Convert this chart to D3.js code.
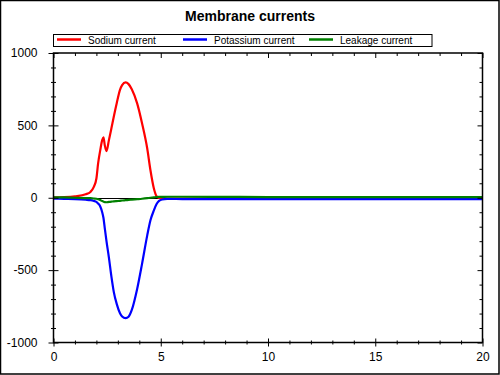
<!DOCTYPE html>
<html>
<head>
<meta charset="utf-8">
<script src="https://cdnjs.cloudflare.com/ajax/libs/d3/7.8.5/d3.min.js"></script>
<style>
  body { margin: 0; background: #fff; }
  svg { display: block; font-family: "Liberation Sans", Arial, sans-serif; }
</style>
</head>
<body>
<svg id="chart" width="500" height="375"></svg>
<script>
// time in ms, currents
var time = [0, 0.5, 1, 1.5, 1.72, 1.88, 2, 2.08, 2.18, 2.27, 2.33, 2.39, 2.47, 2.58, 2.7, 2.81,
    2.95, 3.1, 3.2, 3.36, 3.5, 3.65, 3.9, 4.13, 4.37, 4.52, 4.68, 4.8, 4.92, 5.07, 5.3,
    6, 8, 10, 15, 20];
var sodium = [2, 4, 10, 24, 40, 75, 133, 237, 329, 398, 417, 363, 322, 395, 480, 560,
    655, 745, 778, 797, 785, 750, 652, 513, 340, 190, 64, 12, -2, -5, -6,
    -6, -6, -6, -6, -6];
var potassium = [-6, -8, -10, -14, -17, -22, -28, -40, -60, -100, -140, -210, -300, -410, -545, -650,
    -735, -798, -820, -832, -822, -775, -630, -455, -260, -156, -87, -45, -22, -12, -8,
    -9, -10, -10, -10, -10];
var leakage = [3, 2, 0, -2, -3, -5, -7, -10, -16, -23, -27, -30, -31, -29, -27, -25,
    -23, -21, -19, -17, -15, -13, -10, -7, -3, 0, 3, 5, 6, 6, 7,
    7, 6, 5, 5, 5];

var seriesNames = ["Sodium current", "Potassium current", "Leakage current"];
var seriesColors = ["#ff0000", "#0000ff", "#008000"];
var xMajor = [0, 5, 10, 15, 20];
var yMajor = [-1000, -500, 0, 500, 1000];

var svg = d3.select("#chart");

svg.append("rect")
    .attr("x", 0.5).attr("y", 0.5)
    .attr("width", 498.5).attr("height", 373.5)
    .attr("fill", "#fff")
    .attr("stroke", "#000")
    .attr("stroke-width", 1.5);

var x = d3.scaleLinear().domain([0, 20]).range([53.5, 482.5]);
var y = d3.scaleLinear().domain([-1000, 1000]).range([342.5, 53]);

var xMinor = d3.range(0, 21, 1).filter(function(d){ return d % 5 != 0; });
var yMinor = d3.range(-1000, 1001, 100).filter(function(d){ return d % 500 != 0; });
var plain = function(d){ return String(d); };

// title
svg.append("text")
    .attr("x", 250).attr("y", 21)
    .attr("text-anchor", "middle")
    .attr("font-size", 14)
    .attr("font-weight", "bold")
    .text("Membrane currents");

// legend
svg.append("rect")
    .attr("x", 53.5).attr("y", 34.5)
    .attr("width", 378.5).attr("height", 12)
    .attr("fill", "none")
    .attr("stroke", "#000");

var legendX = [57, 183, 309];
seriesNames.forEach(function(name, i){
    svg.append("line")
        .attr("x1", legendX[i]).attr("x2", legendX[i] + 24)
        .attr("y1", 39.5).attr("y2", 39.5)
        .attr("stroke", seriesColors[i])
        .attr("stroke-width", 2.5);
    svg.append("text")
        .attr("x", legendX[i] + 31).attr("y", 43.5)
        .attr("font-size", 10)
        .text(name);
});

// zero line
svg.append("line")
    .attr("x1", x(0)).attr("x2", x(20))
    .attr("y1", Math.round(y(0)) + 0.5).attr("y2", Math.round(y(0)) + 0.5)
    .attr("stroke", "#000");

// curves
var allSeries = [sodium, potassium, leakage];
var line = d3.line()
    .x(function(d){ return x(d[0]); })
    .y(function(d){ return y(d[1]); })
    .curve(d3.curveMonotoneX);

allSeries.forEach(function(vals, i){
    var pts = time.map(function(t, j){ return [t, vals[j]]; });
    svg.append("path")
        .attr("d", line(pts))
        .attr("fill", "none")
        .attr("stroke", seriesColors[i])
        .attr("stroke-width", 2.2)
        .attr("stroke-linejoin", "round");
});

// axes
function crossTicks(g, len, vertical){
    g.select(".domain").remove();
    g.selectAll(".tick line").each(function(){
        var l = d3.select(this);
        if (vertical) l.attr("x1", -len).attr("x2", len);
        else l.attr("y1", -len).attr("y2", len);
    });
}

// bottom
svg.append("g").attr("transform", "translate(0,342.5)")
    .call(d3.axisBottom(x).tickValues(xMinor).tickSize(2).tickFormat(""))
    .call(function(g){ crossTicks(g, 2, false); });
var gB = svg.append("g").attr("transform", "translate(0,342.5)")
    .call(d3.axisBottom(x).tickValues(xMajor).tickSize(4).tickSizeOuter(0).tickFormat(plain))
    .call(function(g){ crossTicks(g, 4, false); });
gB.selectAll("text").attr("y", 10).attr("font-size", 12).attr("font-family", null).attr("fill", "#000");

// left
svg.append("g").attr("transform", "translate(53.5,0)")
    .call(d3.axisLeft(y).tickValues(yMinor).tickSize(2.5).tickFormat(""))
    .call(function(g){ crossTicks(g, 2.5, true); });
var gL = svg.append("g").attr("transform", "translate(53.5,0)")
    .call(d3.axisLeft(y).tickValues(yMajor).tickSize(5).tickSizeOuter(0).tickFormat(plain))
    .call(function(g){ crossTicks(g, 5, true); });
gL.selectAll("text").attr("x", -16).attr("font-size", 12).attr("font-family", null).attr("fill", "#000");

// top and right, ticks inside
svg.append("g").attr("transform", "translate(0,53)")
    .call(d3.axisTop(x).tickValues(xMinor).tickSize(-3).tickFormat(""))
    .call(function(g){ g.select(".domain").remove(); });
svg.append("g").attr("transform", "translate(0,53)")
    .call(d3.axisTop(x).tickValues(xMajor).tickSize(-5).tickFormat(""))
    .call(function(g){ g.select(".domain").remove(); });
svg.append("g").attr("transform", "translate(482.5,0)")
    .call(d3.axisRight(y).tickValues(yMinor).tickSize(-3).tickFormat(""))
    .call(function(g){ g.select(".domain").remove(); });
svg.append("g").attr("transform", "translate(482.5,0)")
    .call(d3.axisRight(y).tickValues(yMajor).tickSize(-5).tickFormat(""))
    .call(function(g){ g.select(".domain").remove(); });

// plot frame
svg.append("rect")
    .attr("x", 53.5).attr("y", 53)
    .attr("width", 429).attr("height", 289.5)
    .attr("fill", "none")
    .attr("stroke", "#000")
    .attr("stroke-width", 1.5);
</script>
</body>
</html>
